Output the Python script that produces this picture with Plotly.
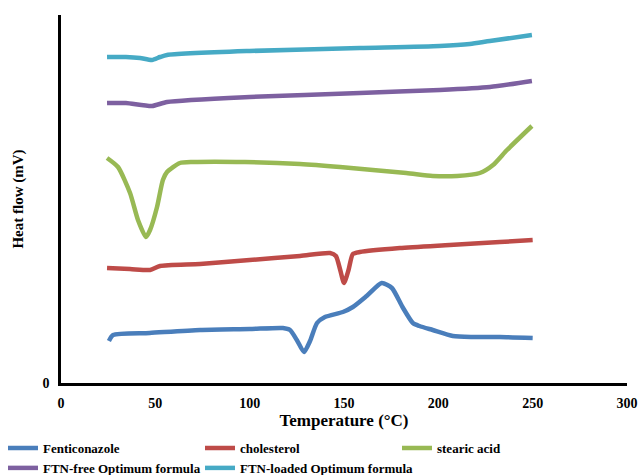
import plotly.graph_objects as go

# Temperature (°C) and heat flow (arbitrary mV offsets)
fen_t = [25.4, 27.6, 47, 73.7, 100, 117.6, 121.4, 125, 128.8, 132, 135.7, 139.9, 149.4, 154.7, 162, 170, 175.4, 181, 186.5, 190, 197, 207.7, 218, 232.6, 250]
fen_y = [42, 48, 50, 53, 54, 55, 53, 43, 31, 42, 60, 66, 71, 76, 87, 100, 95, 76, 60, 57, 53, 47, 46, 46, 45]

chol_t = [24.4, 36.6, 47.2, 52.5, 73.7, 100, 126.7, 142.6, 145.7, 148, 150, 152.4, 154.7, 158.4, 179.6, 206, 232.6, 250]
chol_y = [115, 114, 113, 117, 119, 123, 127, 130, 127, 113, 100, 113, 129, 131, 135, 138, 141, 143]

ste_t = [24.4, 30.2, 36.6, 40.8, 45, 47.2, 50.9, 54, 56.2, 63, 70, 97.5, 126.7, 147.9, 183, 197, 210, 222, 229, 236.4, 249.6]
ste_y = [225, 216, 190, 163, 146, 153, 176, 203, 211, 220, 221, 221, 219, 216, 210, 207, 207, 210, 218, 233, 257]

free_t = [24.4, 34.4, 48.2, 56.2, 100, 158.4, 200.8, 227.3, 249.6]
free_y = [280, 280, 277, 281, 286, 290, 293, 296, 302]

load_t = [24.4, 34.4, 41.9, 48.2, 52.5, 56.2, 100, 158.4, 200.8, 216.7, 227.3, 249.6]
load_y = [326, 326, 325, 323, 326, 328, 332, 335, 337, 339, 342, 348]

names = ["Fenticonazole", "cholesterol", "stearic acid", "FTN-free Optimum formula", "FTN-loaded Optimum formula"]
colors = ["#4A7EBB", "#BE4B48", "#98B954", "#7D60A0", "#46AAC5"]
series = [(fen_t, fen_y), (chol_t, chol_y), (ste_t, ste_y), (free_t, free_y), (load_t, load_y)]

x_ticks = [0, 50, 100, 150, 200, 250, 300]

font_family = "Liberation Serif"

fig = go.Figure()
for name, color, (t, y) in zip(names, colors, series):
    fig.add_trace(go.Scatter(
        x=t, y=y, mode="lines", name=name,
        line=dict(color=color, width=4.5, shape="spline", smoothing=0.6),
    ))

fig.update_layout(
    width=641, height=475,
    margin=dict(l=61, r=14, t=15, b=92, autoexpand=False),
    paper_bgcolor="white", plot_bgcolor="white",
    font=dict(family=font_family, color="black"),
    showlegend=True,
    legend=dict(
        orientation="h", xref="paper", yref="paper",
        x=-0.1025, y=-0.136, xanchor="left", yanchor="top",
        entrywidth=152, entrywidthmode="pixels",
        font=dict(family=font_family, size=13, color="black", weight="bold"),
        itemwidth=30, tracegroupgap=0, bgcolor="rgba(0,0,0,0)",
    ),
    xaxis=dict(
        range=[0, 300], tickvals=x_ticks, ticktext=[str(v) for v in x_ticks],
        showline=True, linecolor="black", linewidth=2.5,
        showgrid=False, zeroline=False, ticks="", ticklabelstandoff=5,
        tickfont=dict(family=font_family, size=14, color="black", weight="bold"),
        title=dict(text="Temperature (°C)", standoff=5,
                   font=dict(family=font_family, size=17, color="black", weight="bold")),
    ),
    yaxis=dict(
        range=[0, 368], tickvals=[0], ticktext=["0"],
        showline=True, linecolor="black", linewidth=2.5,
        showgrid=False, zeroline=False, ticks="", ticklabelstandoff=6,
        tickfont=dict(family=font_family, size=14, color="black", weight="bold"),
        title=dict(text="Heat flow (mV)", standoff=16,
                   font=dict(family=font_family, size=15, color="black", weight="bold")),
    ),
)

fig.write_html("out.html")
